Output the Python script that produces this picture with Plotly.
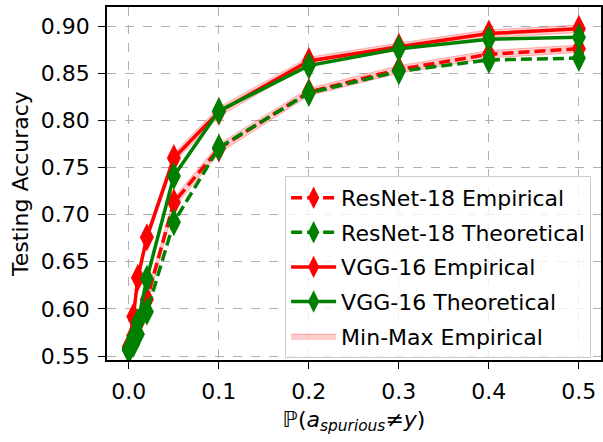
import plotly.graph_objects as go

# ---------------- data ----------------
x_vals = [0.0, 0.005, 0.01, 0.02, 0.05, 0.1, 0.2, 0.3, 0.4, 0.5]

resnet_emp = [0.557, 0.572, 0.585, 0.610, 0.713, 0.770, 0.830, 0.854, 0.870, 0.876]
resnet_theo = [0.556, 0.563, 0.573, 0.597, 0.692, 0.771, 0.829, 0.852, 0.864, 0.866]
vgg_emp = [0.560, 0.592, 0.633, 0.676, 0.760, 0.809, 0.863, 0.878, 0.892, 0.897]
vgg_theo = [0.558, 0.570, 0.586, 0.632, 0.741, 0.810, 0.858, 0.876, 0.886, 0.888]

resnet_min = [0.553, 0.567, 0.580, 0.604, 0.707, 0.765, 0.826, 0.850, 0.866, 0.872]
resnet_max = [0.561, 0.577, 0.590, 0.616, 0.718, 0.775, 0.834, 0.858, 0.874, 0.880]
vgg_min = [0.556, 0.587, 0.628, 0.671, 0.755, 0.804, 0.859, 0.874, 0.888, 0.893]
vgg_max = [0.564, 0.597, 0.638, 0.681, 0.765, 0.814, 0.867, 0.882, 0.896, 0.901]

x_ticks = [0.0, 0.1, 0.2, 0.3, 0.4, 0.5]
x_tick_labels = ["0.0", "0.1", "0.2", "0.3", "0.4", "0.5"]
y_ticks = [0.55, 0.60, 0.65, 0.70, 0.75, 0.80, 0.85, 0.90]
y_tick_labels = ["0.55", "0.60", "0.65", "0.70", "0.75", "0.80", "0.85", "0.90"]

RED = "#ff0000"
GREEN = "#008000"
BAND = "rgba(255,0,0,0.2)"
BAND_EDGE = "rgba(255,0,0,0.25)"
FONT = "DejaVu Sans"
FS = 22

fig = go.Figure()

# bands (min-max empirical)
for i, (lo, hi) in enumerate([(resnet_min, resnet_max), (vgg_min, vgg_max)]):
    fig.add_trace(go.Scatter(x=x_vals, y=lo, mode="lines",
                             line=dict(color=BAND_EDGE, width=1),
                             showlegend=False, hoverinfo="skip"))
    fig.add_trace(go.Scatter(x=x_vals, y=hi, mode="lines", fill="tonexty",
                             fillcolor=BAND, line=dict(color=BAND_EDGE, width=1),
                             name="Min-Max Empirical", showlegend=(i == 0),
                             legendrank=5, legendgroup="g5"))

marker_common = dict(symbol="diamond-tall", size=20, line=dict(width=0))

fig.add_trace(go.Scatter(x=x_vals, y=resnet_emp, mode="lines+markers",
                         name="ResNet-18 Empirical", legendrank=1, legendgroup="g1",
                         line=dict(color=RED, width=3.5, dash="11px,5px"),
                         marker=dict(color=RED, **marker_common)))
fig.add_trace(go.Scatter(x=x_vals, y=vgg_emp, mode="lines+markers",
                         name="VGG-16 Empirical", legendrank=3, legendgroup="g3",
                         line=dict(color=RED, width=3.5),
                         marker=dict(color=RED, **marker_common)))
fig.add_trace(go.Scatter(x=x_vals, y=resnet_theo, mode="lines+markers",
                         name="ResNet-18 Theoretical", legendrank=2, legendgroup="g2",
                         line=dict(color=GREEN, width=3.5, dash="11px,5px"),
                         marker=dict(color=GREEN, **marker_common)))
fig.add_trace(go.Scatter(x=x_vals, y=vgg_theo, mode="lines+markers",
                         name="VGG-16 Theoretical", legendrank=4, legendgroup="g4",
                         line=dict(color=GREEN, width=3.5),
                         marker=dict(color=GREEN, **marker_common)))

axis_common = dict(showline=True, linecolor="black", linewidth=1.5, mirror=True,
                   ticks="outside", ticklen=7, tickwidth=1.3, tickcolor="black",
                   showgrid=True, gridcolor="#b0b0b0", griddash="dash", gridwidth=1,
                   zeroline=False, ticklabelstandoff=4,
                   tickfont=dict(family=FONT, size=FS, color="black"))

fig.update_xaxes(range=[-0.0243, 0.5246], tickvals=x_ticks, ticktext=x_tick_labels,
                 title=dict(text="ℙ(<i>a</i><sub><i>spurious</i></sub>≠<i>y</i>)",
                            font=dict(family=FONT, size=FS, color="black"), standoff=8),
                 **axis_common)
fig.update_yaxes(range=[0.5458, 0.9202], tickvals=y_ticks, ticktext=y_tick_labels,
                 title=dict(text="Testing Accuracy",
                            font=dict(family=FONT, size=FS, color="black"), standoff=6),
                 **axis_common)

fig.update_layout(
    width=603, height=442,
    margin=dict(l=107, r=0, t=7, b=82),
    plot_bgcolor="white", paper_bgcolor="white",
    font=dict(family=FONT, size=FS, color="black"),
    legend=dict(x=0.98, y=0.006, xanchor="right", yanchor="bottom",
                bgcolor="rgba(255,255,255,0.8)", bordercolor="#cccccc", borderwidth=1,
                font=dict(family=FONT, size=FS, color="black"),
                tracegroupgap=3, itemwidth=45),
    showlegend=True,
)

fig.write_html("out.html")
